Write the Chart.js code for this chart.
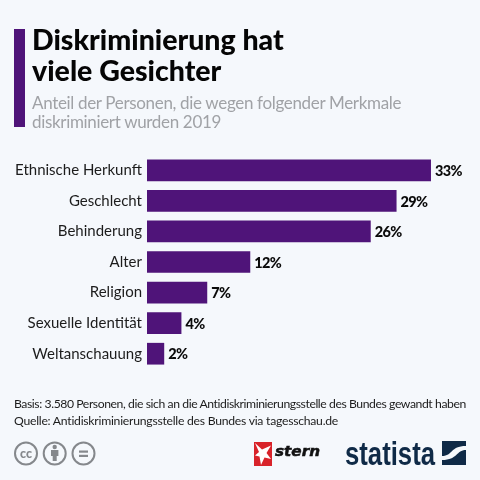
<!DOCTYPE html>
<html lang="de">
<head>
<meta charset="UTF-8">
<title>Diskriminierung hat viele Gesichter</title>
<script src="https://cdn.jsdelivr.net/npm/chart.js@4"></script>
<style>
html, body { margin: 0; padding: 0; background: #f5f8fc; }
#wrap { position: relative; width: 480px; height: 480px; overflow: hidden; font-family: Lato, sans-serif; }
#myChart { position: absolute; left: 0; top: 0; }
.txt { position: absolute; white-space: nowrap; }
#accent { position: absolute; left: 14px; top: 29px; width: 11px; height: 98px; background: #4f1479; }
#title { left: 32px; top: 24px; font-size: 28.5px; line-height: 31px; font-weight: 900; color: #050505; }
#sub { left: 32px; top: 92.5px; font-size: 17px; line-height: 19.5px; letter-spacing: -0.33px; color: #a0a2a6; }
#basis { left: 14px; top: 395px; font-size: 12.2px; line-height: 17px; letter-spacing: -0.25px; color: #1c1c1c; }
#basis span { letter-spacing: -0.42px; }
#logos { position: absolute; left: 0; top: 0; }
</style>
</head>
<body>
<div id="wrap">
    <canvas id="myChart" width="480" height="480"></canvas>
    <div id="accent"></div>
    <div class="txt" id="title">Diskriminierung hat<br>viele Gesichter</div>
    <div class="txt" id="sub">Anteil der Personen, die wegen folgender Merkmale<br>diskriminiert wurden 2019</div>
    <div class="txt" id="basis"><span>Basis: 3.580 Personen, die sich an die Antidiskriminierungsstelle des Bundes gewandt haben</span><br>Quelle: Antidiskriminierungsstelle des Bundes via tagesschau.de</div>
    <svg id="logos" width="480" height="480">
        <g fill="none" stroke="#85888c" stroke-width="2">
            <circle cx="26" cy="453.5" r="11"/>
            <circle cx="54.7" cy="453.5" r="11"/>
            <circle cx="83.5" cy="453.5" r="11"/>
        </g>
        <text x="26" y="457.5" text-anchor="middle" font-family="Lato" font-weight="900" font-size="12.5" fill="#85888c">cc</text>
        <g fill="#85888c">
            <circle cx="54.7" cy="447" r="2.2"/>
            <rect x="51" y="450" width="7.4" height="6"/>
            <rect x="52.7" y="455" width="4" height="6"/>
            <rect x="79" y="450.5" width="9" height="2.2"/>
            <rect x="79" y="454.8" width="9" height="2.2"/>
        </g>
        <rect x="254" y="442" width="18" height="24" fill="#d8232a"/>
        <polygon fill="#fff" points="255,443 262,449.5 271,445.5 266.5,453 271,459 264.5,457.5 261,465 259.5,456.5 255,455.5 259,452"/>
        <text x="275" y="456" font-family="DejaVu Sans" font-weight="700" font-style="italic" font-size="13.5" fill="#111" stroke="#111" stroke-width="0.5" textLength="45" lengthAdjust="spacingAndGlyphs">stern</text>
        <text x="345" y="464.5" font-family="Liberation Sans Narrow, Liberation Sans" font-weight="700" font-size="33" fill="#0f2a47" textLength="90" lengthAdjust="spacingAndGlyphs">statista</text>
        <rect x="442" y="441" width="24" height="24" fill="#0f2a47"/>
        <path d="M442 456 C453 456 450 446 466 446 L466 450 C456 450 458 460 442 460 Z" fill="#f5f8fc"/>
    </svg>
</div>

<script>
// values
const categories = ["Ethnische Herkunft", "Geschlecht", "Behinderung", "Alter", "Religion", "Sexuelle Identität", "Weltanschauung"];
const shares = [33, 29, 26, 12, 7, 4, 2];
const shareLabels = ["33%", "29%", "26%", "12%", "7%", "4%", "2%"];

// draws the bold percent labels next to the bar ends
const barLabels = {
    id: "barLabels",
    afterDatasetsDraw(chart) {
        const ctx = chart.ctx;
        const bars = chart.getDatasetMeta(0).data;
        ctx.save();
        ctx.font = "900 14.5px Lato";
        ctx.letterSpacing = "-0.7px";
        ctx.fillStyle = "#0a0a0a";
        ctx.textBaseline = "middle";
        bars.forEach(function (bar, i) {
            ctx.fillText(shareLabels[i], bar.x + 4, bar.y + 1);
        });
        ctx.restore();
    }
};

new Chart("myChart", {
    type: "bar",
    data: {
        labels: categories,
        datasets: [{
            data: shares,
            backgroundColor: "#4f1479",
            categoryPercentage: 1,
            barPercentage: 0.71
        }]
    },
    options: {
        indexAxis: "y",
        responsive: false,
        animation: false,
        layout: { padding: { top: 155, bottom: 111, left: 0, right: 6 } },
        plugins: { legend: { display: false }, tooltip: { enabled: false } },
        scales: {
            x: { display: false, min: 0, max: 38 },
            y: {
                afterFit: function (scale) { scale.width = 147; },
                grid: { display: false, drawTicks: false },
                border: { display: false },
                ticks: {
                    padding: 5,
                    color: "#1c1c1c",
                    font: { family: "Lato", size: 15 }
                }
            }
        }
    },
    plugins: [barLabels]
});
</script>
</body>
</html>
